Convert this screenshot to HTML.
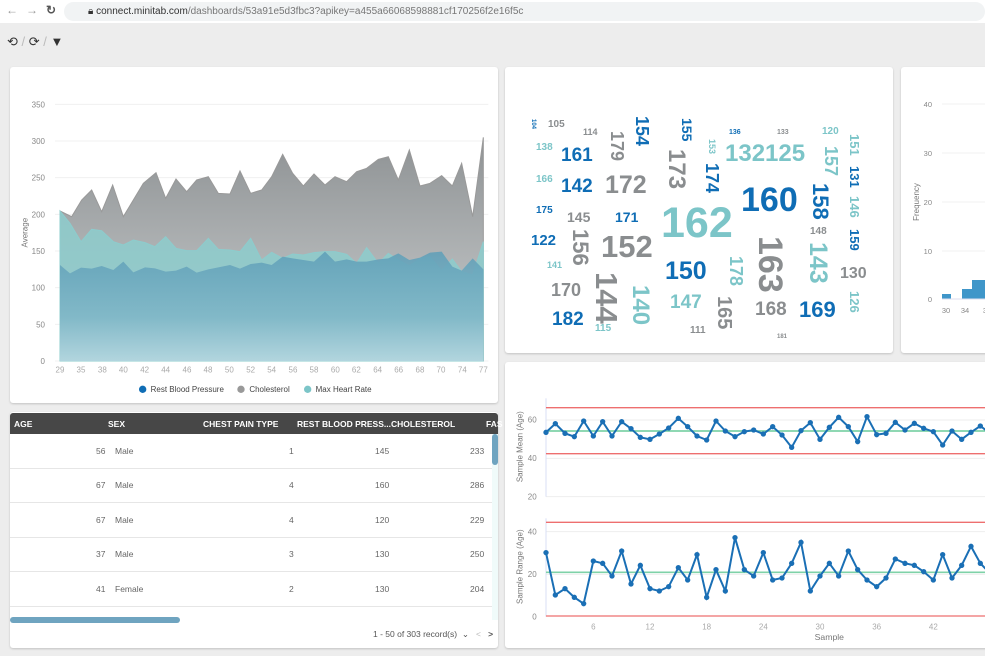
<!DOCTYPE html>
<html><head><meta charset="utf-8"><style>
body{margin:0;width:985px;height:656px;background:#ededed;font-family:"Liberation Sans",sans-serif;position:relative;overflow:hidden}
.p{position:absolute;background:#fff;border-radius:3px;box-shadow:0 1px 2px rgba(0,0,0,.18)}
.top{position:absolute;left:0;top:0;width:985px;height:23px;background:#fff}
.url{position:absolute;left:64px;top:2px;width:921px;height:19px;background:#f1f3f4;border-radius:10px;font-size:10px;line-height:19px;color:#333;text-indent:24px}
.url span{color:#777}
.nav{position:absolute;top:3px;font-size:12px;color:#999}
.tb{position:absolute;left:10px;top:413px;width:488px;height:21px;background:#474747;border-radius:3px 3px 0 0}
.th{position:absolute;top:6px;color:#fff;font-size:8.5px;font-weight:bold}
.row{position:absolute;left:10px;width:482px;height:34px;border-bottom:1px solid #e6e6e6}
.c{position:absolute;font-size:8.5px;color:#666;top:12px}
</style></head><body>
<div class="top">
<div class="nav" style="left:6px">&#8592;</div><div class="nav" style="left:26px">&#8594;</div><div class="nav" style="left:46px;color:#555;font-weight:bold">&#8635;</div>
<div class="url">🔒︎ connect.minitab.com<span>/dashboards/53a91e5d3fbc3?apikey=a455a66068598881cf170256f2e16f5c</span></div>
</div>
<div style="position:absolute;left:7px;top:34px;font-size:13px;color:#333">&#10226; <span style="color:#bbb">/</span> &#10227; <span style="color:#bbb">/</span> &#9660;</div>

<div class="p" style="left:10px;top:67px;width:488px;height:336px"></div>
<div class="p" style="left:505px;top:67px;width:388px;height:286px"></div>
<div class="p" style="left:901px;top:67px;width:90px;height:286px"></div>
<div class="p" style="left:10px;top:412px;width:488px;height:236px;overflow:hidden"></div>
<div class="p" style="left:505px;top:362px;width:490px;height:286px"></div>

<!-- table -->
<div class="tb">
<div class="th" style="left:4px">AGE</div><div class="th" style="left:98px">SEX</div><div class="th" style="left:193px">CHEST PAIN TYPE</div><div class="th" style="left:287px">REST BLOOD PRESS...</div><div class="th" style="left:381px">CHOLESTEROL</div><div class="th" style="left:476px">FAS</div>
</div>
<div class="row" style="top:434px"><div class="c" style="left:86px">56</div><div class="c" style="left:105px">Male</div><div class="c" style="left:279px">1</div><div class="c" style="left:365px">145</div><div class="c" style="left:460px">233</div></div>
<div class="row" style="top:468px"><div class="c" style="left:86px">67</div><div class="c" style="left:105px">Male</div><div class="c" style="left:279px">4</div><div class="c" style="left:365px">160</div><div class="c" style="left:460px">286</div></div>
<div class="row" style="top:503px"><div class="c" style="left:86px">67</div><div class="c" style="left:105px">Male</div><div class="c" style="left:279px">4</div><div class="c" style="left:365px">120</div><div class="c" style="left:460px">229</div></div>
<div class="row" style="top:537px"><div class="c" style="left:86px">37</div><div class="c" style="left:105px">Male</div><div class="c" style="left:279px">3</div><div class="c" style="left:365px">130</div><div class="c" style="left:460px">250</div></div>
<div class="row" style="top:572px"><div class="c" style="left:86px">41</div><div class="c" style="left:105px">Female</div><div class="c" style="left:279px">2</div><div class="c" style="left:365px">130</div><div class="c" style="left:460px">204</div></div>
<div style="position:absolute;left:10px;top:617px;width:170px;height:6px;background:#6fa4c0;border-radius:3px"></div>
<div style="position:absolute;left:492px;top:434px;width:6px;height:186px;background:#f0fbfa"></div>
<div style="position:absolute;left:492px;top:434px;width:6px;height:31px;background:#6fa4c0;border-radius:3px"></div>
<div style="position:absolute;left:373px;top:629px;font-size:8.5px;color:#555">1 - 50 of 303 record(s) &nbsp;⌄ &nbsp; <span style="color:#bbb">&lt;</span> &nbsp;&nbsp;<b>&gt;</b></div>

<svg width="985" height="656" style="position:absolute;left:0;top:0" font-family="Liberation Sans, sans-serif">
<defs>
<linearGradient id="g1" x1="0" y1="0" x2="0" y2="1"><stop offset="0" stop-color="#8e9294"/><stop offset="1" stop-color="#cdd0d1"/></linearGradient>
<linearGradient id="g2" x1="0" y1="0" x2="0" y2="1"><stop offset="0" stop-color="#5f9fb8"/><stop offset="0.6" stop-color="#7fb6c7"/><stop offset="1" stop-color="#b5d6e0"/></linearGradient>
</defs>
<!-- area chart -->
<g transform="translate(0,60) scale(0.33333)">
<g stroke="#f0f0f0" stroke-width="3"><line x1="165" x2="1465" y1="133" y2="133"/><line x1="165" x2="1465" y1="243" y2="243"/><line x1="165" x2="1465" y1="353" y2="353"/><line x1="165" x2="1465" y1="463" y2="463"/><line x1="165" x2="1465" y1="573" y2="573"/><line x1="165" x2="1465" y1="683" y2="683"/><line x1="165" x2="1465" y1="793" y2="793"/><line x1="165" x2="1465" y1="903" y2="903"/></g>
<g font-size="24" fill="#888" text-anchor="end"><text x="135" y="142">350</text><text x="135" y="252">300</text><text x="135" y="362">250</text><text x="135" y="472">200</text><text x="135" y="582">150</text><text x="135" y="692">100</text><text x="135" y="802">50</text><text x="135" y="912">0</text></g>
<text transform="translate(82,518) rotate(-90)" font-size="24" fill="#777" text-anchor="middle">Average</text>
<polygon fill="url(#g1)" stroke="#999" stroke-width="3" points="180,453 215,470 245,420 275,390 305,455 338,375 370,470 400,420 430,370 468,338 497,415 528,357 560,395 590,360 625,350 655,400 690,402 720,333 752,400 785,390 815,350 848,283 878,340 910,378 942,342 975,375 1005,350 1040,365 1070,335 1100,325 1135,298 1165,290 1195,360 1228,270 1260,378 1290,370 1325,347 1357,378 1385,310 1418,470 1450,232 1450,903 180,903"/>
<polygon fill="#8dcccd" fill-opacity="0.85" stroke="#8dcccd" stroke-width="3" points="180,453 210,490 243,545 275,508 305,512 340,545 370,555 400,540 435,548 465,560 497,530 528,565 560,572 590,572 625,535 655,568 690,570 720,575 752,535 785,600 815,577 848,595 878,582 910,585 942,578 975,575 1005,575 1040,583 1070,610 1100,563 1135,610 1165,580 1195,600 1228,618 1260,595 1290,590 1325,632 1357,597 1385,635 1418,645 1450,545 1450,903 180,903"/>
<polygon fill="url(#g2)" fill-opacity="0.88" points="180,615 210,640 243,623 275,626 305,618 340,630 370,605 400,637 435,622 465,625 497,635 528,632 560,620 590,638 625,628 655,622 690,615 720,626 752,612 785,608 815,615 848,590 878,595 910,600 942,605 975,575 1005,605 1040,598 1070,605 1100,605 1135,598 1165,595 1195,580 1228,600 1260,593 1290,578 1325,575 1357,620 1385,632 1418,595 1450,628 1450,903 180,903"/>
<g font-size="24" fill="#aaa" text-anchor="middle"><text x="180" y="938">29</text><text x="243" y="938">35</text><text x="307" y="938">38</text><text x="370" y="938">40</text><text x="434" y="938">42</text><text x="497" y="938">44</text><text x="561" y="938">46</text><text x="624" y="938">48</text><text x="688" y="938">50</text><text x="752" y="938">52</text><text x="815" y="938">54</text><text x="879" y="938">56</text><text x="942" y="938">58</text><text x="1006" y="938">60</text><text x="1069" y="938">62</text><text x="1133" y="938">64</text><text x="1196" y="938">66</text><text x="1260" y="938">68</text><text x="1323" y="938">70</text><text x="1387" y="938">74</text><text x="1450" y="938">77</text></g>
<g font-size="24" fill="#444"><circle cx="428" cy="988" r="11" fill="#0f6db5"/><text x="452" y="996">Rest Blood Pressure</text><circle cx="723" cy="988" r="11" fill="#999"/><text x="748" y="996">Cholesterol</text><circle cx="923" cy="988" r="11" fill="#7cc5c8"/><text x="947" y="996">Max Heart Rate</text></g>
</g>

<!-- word cloud -->
<g font-weight="bold" font-family="Liberation Sans, sans-serif">
<g fill="#8a8d8f">
<text x="548" y="127" font-size="10">105</text><text x="583" y="135" font-size="9">114</text><text x="605" y="193" font-size="25">172</text><text x="567" y="222" font-size="14">145</text><text x="601" y="257" font-size="31">152</text><text x="551" y="296" font-size="18">170</text><text x="755" y="315" font-size="19">168</text><text x="810" y="234" font-size="10">148</text><text x="840" y="278" font-size="16">130</text><text x="690" y="333" font-size="10">111</text><text x="777" y="338" font-size="6">181</text><text x="777" y="134" font-size="7">133</text>
</g>
<g fill="#0f6db5">
<text x="561" y="161" font-size="19">161</text><text x="561" y="192" font-size="19">142</text><text x="536" y="213" font-size="10">175</text><text x="531" y="245" font-size="15">122</text><text x="615" y="222" font-size="14">171</text><text x="741" y="211" font-size="34">160</text><text x="665" y="279" font-size="25">150</text><text x="799" y="317" font-size="22">169</text><text x="552" y="325" font-size="19">182</text><text x="729" y="134" font-size="7">136</text>
</g>
<g fill="#7cc5c8">
<text x="536" y="150" font-size="10">138</text><text x="536" y="182" font-size="10">166</text><text x="547" y="268" font-size="9">141</text><text x="661" y="237" font-size="43">162</text><text x="725" y="161" font-size="24">132125</text><text x="822" y="134" font-size="10">120</text><text x="670" y="308" font-size="19">147</text><text x="595" y="331" font-size="10">115</text>
</g>
<g fill="#0f6db5">
<text transform="translate(636,116) rotate(90)" font-size="18">154</text>
<text transform="translate(682,118) rotate(90)" font-size="14">155</text>
<text transform="translate(706,163) rotate(90)" font-size="18">174</text>
<text transform="translate(813,183) rotate(90)" font-size="22">158</text>
<text transform="translate(850,166) rotate(90)" font-size="13">131</text>
<text transform="translate(850,229) rotate(90)" font-size="13">159</text>
<text transform="translate(532,119) rotate(90)" font-size="6">104</text>
</g>
<g fill="#8a8d8f">
<text transform="translate(611,131) rotate(90)" font-size="18">179</text>
<text transform="translate(669,149) rotate(90)" font-size="24">173</text>
<text transform="translate(759,236) rotate(90)" font-size="34">163</text>
<text transform="translate(573,229) rotate(90)" font-size="22">156</text>
<text transform="translate(596,272) rotate(90)" font-size="31">144</text>
<text transform="translate(718,296) rotate(90)" font-size="20">165</text>
</g>
<g fill="#7cc5c8">
<text transform="translate(825,146) rotate(90)" font-size="18">157</text>
<text transform="translate(850,134) rotate(90)" font-size="13">151</text>
<text transform="translate(850,196) rotate(90)" font-size="13">146</text>
<text transform="translate(810,242) rotate(90)" font-size="25">143</text>
<text transform="translate(730,256) rotate(90)" font-size="18">178</text>
<text transform="translate(633,285) rotate(90)" font-size="24">140</text>
<text transform="translate(850,291) rotate(90)" font-size="13">126</text>
<text transform="translate(709,139) rotate(90)" font-size="9">153</text>
</g>
</g>

<!-- histogram -->
<g stroke="#f0f0f0" stroke-width="1"><line x1="942" x2="985" y1="104" y2="104"/><line x1="942" x2="985" y1="153" y2="153"/><line x1="942" x2="985" y1="202" y2="202"/><line x1="942" x2="985" y1="251" y2="251"/></g>
<g font-size="7.5" fill="#888" text-anchor="end"><text x="932" y="107">40</text><text x="932" y="156">30</text><text x="932" y="205">20</text><text x="932" y="254">10</text><text x="932" y="302">0</text></g>
<text transform="translate(919,202) rotate(-90)" font-size="8" fill="#777" text-anchor="middle">Frequency</text>
<g fill="#3f96c9"><rect x="942" y="294" width="9" height="5"/><rect x="962" y="289" width="10" height="10"/><rect x="972" y="280" width="13" height="19"/></g>
<line x1="942" x2="985" y1="299" y2="299" stroke="#dde" />
<g font-size="7.5" fill="#888" text-anchor="middle"><text x="946" y="313">30</text><text x="965" y="313">34</text><text x="985" y="313">3</text></g>

<!-- control chart -->
<g transform="translate(500,380) scale(0.33333)">
<g stroke="#eee" stroke-width="3"><line x1="138" x2="1460" y1="120" y2="120"/><line x1="138" x2="1460" y1="235" y2="235"/><line x1="138" x2="1460" y1="350" y2="350"/><line x1="138" x2="1460" y1="455" y2="455"/><line x1="138" x2="1460" y1="583" y2="583"/></g>
<g stroke="#d8dff5" stroke-width="3"><line x1="138" x2="138" y1="55" y2="350"/><line x1="138" x2="138" y1="415" y2="710"/></g>
<g font-size="24" fill="#888" text-anchor="end"><text x="110" y="128">60</text><text x="110" y="243">40</text><text x="110" y="358">20</text><text x="110" y="463">40</text><text x="110" y="591">20</text><text x="110" y="718">0</text></g>
<text transform="translate(68,200) rotate(-90)" font-size="24" fill="#777" text-anchor="middle">Sample Mean (Age)</text>
<text transform="translate(68,560) rotate(-90)" font-size="24" fill="#777" text-anchor="middle">Sample Range (Age)</text>
<g stroke="#ee6f6f" stroke-width="4"><line x1="138" x2="1460" y1="83" y2="83"/><line x1="138" x2="1460" y1="221" y2="221"/><line x1="138" x2="1460" y1="427" y2="427"/><line x1="138" x2="1460" y1="708" y2="708"/></g>
<g stroke="#7fd2a8" stroke-width="5"><line x1="138" x2="1460" y1="153" y2="153"/><line x1="138" x2="1460" y1="577" y2="577"/></g>
<polyline fill="none" stroke="#1a6fb5" stroke-width="6" points="138,157 166,131 195,160 223,170 251,123 280,168 308,125 336,168 365,125 393,146 421,172 450,178 478,162 506,144 535,115 563,140 591,168 620,180 648,123 676,153 705,170 733,155 761,150 790,162 818,140 846,165 875,202 903,152 931,128 960,178 988,142 1016,112 1045,140 1073,185 1101,110 1130,164 1158,160 1186,127 1215,150 1243,130 1271,145 1300,155 1328,195 1356,153 1385,178 1413,157 1441,138 1470,160"/>
<polyline fill="none" stroke="#1a6fb5" stroke-width="6" points="138,518 166,645 195,626 223,652 251,671 280,543 308,550 336,588 365,513 393,612 421,556 450,626 478,633 506,620 535,563 563,600 591,524 620,652 648,569 676,633 705,473 733,569 761,588 790,518 818,600 846,594 875,550 903,487 931,633 960,588 988,550 1016,588 1045,513 1073,569 1101,600 1130,620 1158,594 1186,537 1215,550 1243,556 1271,575 1300,600 1328,524 1356,594 1385,556 1413,499 1441,550 1470,580"/>
<g fill="#1a6fb5">
<circle cx="138" cy="157" r="8"/><circle cx="166" cy="131" r="8"/><circle cx="195" cy="160" r="8"/><circle cx="223" cy="170" r="8"/><circle cx="251" cy="123" r="8"/><circle cx="280" cy="168" r="8"/><circle cx="308" cy="125" r="8"/><circle cx="336" cy="168" r="8"/><circle cx="365" cy="125" r="8"/><circle cx="393" cy="146" r="8"/><circle cx="421" cy="172" r="8"/><circle cx="450" cy="178" r="8"/><circle cx="478" cy="162" r="8"/><circle cx="506" cy="144" r="8"/><circle cx="535" cy="115" r="8"/><circle cx="563" cy="140" r="8"/><circle cx="591" cy="168" r="8"/><circle cx="620" cy="180" r="8"/><circle cx="648" cy="123" r="8"/><circle cx="676" cy="153" r="8"/><circle cx="705" cy="170" r="8"/><circle cx="733" cy="155" r="8"/><circle cx="761" cy="150" r="8"/><circle cx="790" cy="162" r="8"/><circle cx="818" cy="140" r="8"/><circle cx="846" cy="165" r="8"/><circle cx="875" cy="202" r="8"/><circle cx="903" cy="152" r="8"/><circle cx="931" cy="128" r="8"/><circle cx="960" cy="178" r="8"/><circle cx="988" cy="142" r="8"/><circle cx="1016" cy="112" r="8"/><circle cx="1045" cy="140" r="8"/><circle cx="1073" cy="185" r="8"/><circle cx="1101" cy="110" r="8"/><circle cx="1130" cy="164" r="8"/><circle cx="1158" cy="160" r="8"/><circle cx="1186" cy="127" r="8"/><circle cx="1215" cy="150" r="8"/><circle cx="1243" cy="130" r="8"/><circle cx="1271" cy="145" r="8"/><circle cx="1300" cy="155" r="8"/><circle cx="1328" cy="195" r="8"/><circle cx="1356" cy="153" r="8"/><circle cx="1385" cy="178" r="8"/><circle cx="1413" cy="157" r="8"/><circle cx="1441" cy="138" r="8"/>
<circle cx="138" cy="518" r="8"/><circle cx="166" cy="645" r="8"/><circle cx="195" cy="626" r="8"/><circle cx="223" cy="652" r="8"/><circle cx="251" cy="671" r="8"/><circle cx="280" cy="543" r="8"/><circle cx="308" cy="550" r="8"/><circle cx="336" cy="588" r="8"/><circle cx="365" cy="513" r="8"/><circle cx="393" cy="612" r="8"/><circle cx="421" cy="556" r="8"/><circle cx="450" cy="626" r="8"/><circle cx="478" cy="633" r="8"/><circle cx="506" cy="620" r="8"/><circle cx="535" cy="563" r="8"/><circle cx="563" cy="600" r="8"/><circle cx="591" cy="524" r="8"/><circle cx="620" cy="652" r="8"/><circle cx="648" cy="569" r="8"/><circle cx="676" cy="633" r="8"/><circle cx="705" cy="473" r="8"/><circle cx="733" cy="569" r="8"/><circle cx="761" cy="588" r="8"/><circle cx="790" cy="518" r="8"/><circle cx="818" cy="600" r="8"/><circle cx="846" cy="594" r="8"/><circle cx="875" cy="550" r="8"/><circle cx="903" cy="487" r="8"/><circle cx="931" cy="633" r="8"/><circle cx="960" cy="588" r="8"/><circle cx="988" cy="550" r="8"/><circle cx="1016" cy="588" r="8"/><circle cx="1045" cy="513" r="8"/><circle cx="1073" cy="569" r="8"/><circle cx="1101" cy="600" r="8"/><circle cx="1130" cy="620" r="8"/><circle cx="1158" cy="594" r="8"/><circle cx="1186" cy="537" r="8"/><circle cx="1215" cy="550" r="8"/><circle cx="1243" cy="556" r="8"/><circle cx="1271" cy="575" r="8"/><circle cx="1300" cy="600" r="8"/><circle cx="1328" cy="524" r="8"/><circle cx="1356" cy="594" r="8"/><circle cx="1385" cy="556" r="8"/><circle cx="1413" cy="499" r="8"/><circle cx="1441" cy="550" r="8"/>
</g>
<g font-size="24" fill="#aaa" text-anchor="middle"><text x="280" y="748">6</text><text x="450" y="748">12</text><text x="620" y="748">18</text><text x="790" y="748">24</text><text x="960" y="748">30</text><text x="1130" y="748">36</text><text x="1300" y="748">42</text></g>
<text x="988" y="780" font-size="26" fill="#777" text-anchor="middle">Sample</text>
</g>
</svg>
</body></html>
